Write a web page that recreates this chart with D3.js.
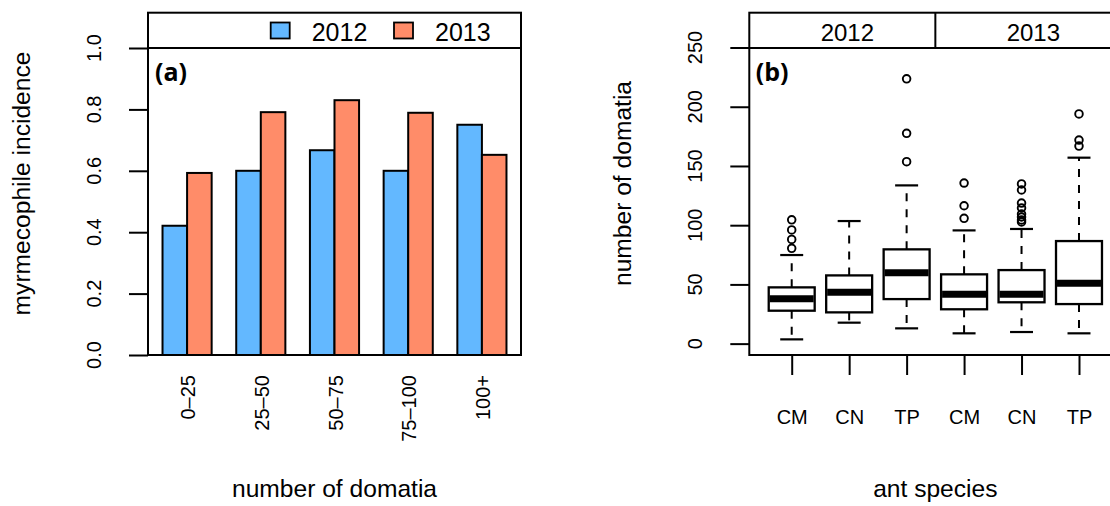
<!DOCTYPE html>
<html>
<head>
<meta charset="utf-8">
<script src="https://cdn.jsdelivr.net/npm/d3@7"></script>
<style>
  body { margin: 0; background: #fff; }
  text { font-family: "Liberation Sans", Arial, Helvetica, sans-serif; fill: #000; }
</style>
</head>
<body>
<div id="chart"></div>
<script>
// ---- data: panel (a) ----
const domatiaClasses = ["0\u201325", "25\u201350", "50\u201375", "75\u2013100", "100+"];
const years = ["2012", "2013"];
const incidence2012 = [0.421, 0.600, 0.667, 0.600, 0.750];
const incidence2013 = [0.593, 0.791, 0.830, 0.789, 0.652];
const incidenceTicks = [0, 0.2, 0.4, 0.6, 0.8, 1.0];

// ---- data: panel (b) ----
const antSpecies = ["CM", "CN", "TP", "CM", "CN", "TP"];
const boxYears = ["2012", "2012", "2012", "2013", "2013", "2013"];
const whiskerLow = [3.6, 17.7, 12.9, 8.7, 9.8, 8.7];
const quart1 = [27.8, 26.4, 37.6, 29.0, 34.9, 33.4];
const medians = [37.9, 43.3, 59.9, 41.6, 41.6, 50.9];
const quart3 = [47.5, 57.6, 79.6, 58.5, 62.1, 86.6];
const whiskerHigh = [74.8, 103.5, 133.6, 95.6, 96.8, 157.0];
const outliers = [
  [80.5, 88.0, 96.0, 104.5],
  [],
  [153.6, 177.6, 223.6],
  [105.8, 116.4, 135.6],
  [102.7, 104.4, 106.9, 109.4, 114.5, 118.7, 129.7, 134.8],
  [166.8, 171.9, 193.9]
];
const domatiaTicks = [0, 50, 100, 150, 200, 250];

const colors = ["#63B8FF", "#FF8C69"];

const W = 1110, H = 506;
const stripTop = 12.7, plotTop = 48, plotBottom = 355;
const panelA = {left: 148, right: 521};
const panelB = {left: 749.3, right: 1121.4};
const tickLen = 19;

const svg = d3.select("#chart")
  .append("svg")
    .attr("width", W)
    .attr("height", H)
    .style("display", "block");

svg.append("rect").attr("width", W).attr("height", H).attr("fill", "#fff");

// helper for rotated text (reads bottom to top)
function vtext(g, x, y, str, size, anchor) {
  return g.append("text")
    .attr("transform", `translate(${x},${y}) rotate(-90)`)
    .attr("text-anchor", anchor || "middle")
    .style("font-size", size + "px")
    .text(str);
}

// ================= panel (a) =================
const ga = svg.append("g");

const x0 = d3.scaleBand()
  .domain(domatiaClasses)
  .range([panelA.left, panelA.right])
  .paddingInner(1 / 3)
  .paddingOuter(0.197);

const x1 = d3.scaleBand()
  .domain(years)
  .range([0, x0.bandwidth()]);

const ya = d3.scaleLinear()
  .domain([0, 1])
  .range([plotBottom, plotTop]);

const barData = domatiaClasses.map((c, i) => ({
  cls: c,
  values: [incidence2012[i], incidence2013[i]]
}));

ga.append("g")
  .selectAll("g")
  .data(barData)
  .join("g")
    .attr("transform", d => `translate(${x0(d.cls)},0)`)
  .selectAll("rect")
  .data(d => d.values.map((v, j) => ({year: years[j], value: v, j: j})))
  .join("rect")
    .attr("x", d => x1(d.year))
    .attr("y", d => ya(d.value))
    .attr("width", x1.bandwidth())
    .attr("height", d => ya(0) - ya(d.value))
    .attr("fill", d => colors[d.j])
    .attr("stroke", "#000")
    .attr("stroke-width", 2);

// y axis
const yAxisA = ga.append("g")
  .attr("transform", `translate(${panelA.left},0)`)
  .call(d3.axisLeft(ya).tickValues(incidenceTicks).tickSize(tickLen).tickFormat(d3.format(".1f")));
yAxisA.select(".domain").remove();
yAxisA.selectAll("line").attr("stroke", "#000").attr("stroke-width", 2);
yAxisA.selectAll("text").remove();
incidenceTicks.forEach(t => vtext(ga, panelA.left - 47, ya(t), d3.format(".1f")(t), 20));

// rotated category labels
domatiaClasses.forEach(c => {
  vtext(ga, x0(c) + x0.bandwidth() / 2 + 8, 375, c, 20, "end");
});

// box + legend strip
ga.append("rect")
  .attr("x", panelA.left).attr("y", plotTop)
  .attr("width", panelA.right - panelA.left).attr("height", plotBottom - plotTop)
  .attr("fill", "none").attr("stroke", "#000").attr("stroke-width", 2);
ga.append("rect")
  .attr("x", panelA.left).attr("y", stripTop)
  .attr("width", panelA.right - panelA.left).attr("height", plotTop - stripTop)
  .attr("fill", "none").attr("stroke", "#000").attr("stroke-width", 2);

// legend
const legend = ga.append("g")
  .selectAll("g")
  .data(years)
  .join("g")
    .attr("transform", (d, i) => `translate(${270.7 + i * 123.3},0)`);
legend.append("rect")
  .attr("x", 0).attr("y", 22.5)
  .attr("width", 19).attr("height", 16)
  .attr("fill", (d, i) => colors[i])
  .attr("stroke", "#000").attr("stroke-width", 1.8);
legend.append("text")
  .attr("x", 41).attr("y", 40.5)
  .style("font-size", "25px")
  .text(d => d);

ga.append("text")
  .attr("x", panelA.left + 7).attr("y", 81)
  .style("font-family", "'Open Sans', sans-serif")
  .style("font-weight", "bold")
  .style("font-size", "25px")
  .text("(a)");

vtext(ga, 30, 183.5, "myrmecophile incidence", 24.6);
ga.append("text")
  .attr("x", (panelA.left + panelA.right) / 2).attr("y", 497)
  .attr("text-anchor", "middle")
  .style("font-size", "24.6px")
  .text("number of domatia");

// ================= panel (b) =================
const gb = svg.append("g");
const keys = antSpecies.map((s, i) => s + "-" + boxYears[i]);

const xb = d3.scalePoint()
  .domain(keys)
  .range([panelB.left, panelB.right])
  .padding(0.738);

const yb = d3.scaleLinear()
  .domain([-9.6, 249.6])
  .range([plotBottom, plotTop]);

const boxW = xb.step() * 0.8;

const boxes = keys.map((k, i) => ({
  key: k,
  lo: whiskerLow[i], q1: quart1[i], med: medians[i], q3: quart3[i], hi: whiskerHigh[i],
  out: outliers[i]
}));

const bg = gb.append("g")
  .selectAll("g")
  .data(boxes)
  .join("g")
    .attr("transform", d => `translate(${xb(d.key)},0)`);

// whiskers (dashed)
bg.append("line")
  .attr("x1", 0).attr("x2", 0)
  .attr("y1", d => yb(d.q3)).attr("y2", d => yb(d.hi))
  .attr("stroke", "#000").attr("stroke-width", 2).attr("stroke-dasharray", "8,8");
bg.append("line")
  .attr("x1", 0).attr("x2", 0)
  .attr("y1", d => yb(d.q1)).attr("y2", d => yb(d.lo))
  .attr("stroke", "#000").attr("stroke-width", 2).attr("stroke-dasharray", "8,8");
// caps
bg.selectAll(".cap")
  .data(d => [d.lo, d.hi])
  .join("line")
    .attr("class", "cap")
    .attr("x1", -boxW / 4).attr("x2", boxW / 4)
    .attr("y1", v => yb(v)).attr("y2", v => yb(v))
    .attr("stroke", "#000").attr("stroke-width", 2.2);
// box
bg.append("rect")
  .attr("x", -boxW / 2).attr("width", boxW)
  .attr("y", d => yb(d.q3)).attr("height", d => yb(d.q1) - yb(d.q3))
  .attr("fill", "#fff").attr("stroke", "#000").attr("stroke-width", 2.3);
// median
bg.append("line")
  .attr("x1", -boxW / 2 + 1).attr("x2", boxW / 2 - 1)
  .attr("y1", d => yb(d.med)).attr("y2", d => yb(d.med))
  .attr("stroke", "#000").attr("stroke-width", 7);
// outliers
bg.selectAll("circle")
  .data(d => d.out)
  .join("circle")
    .attr("cx", 0).attr("cy", v => yb(v)).attr("r", 3.8)
    .attr("fill", "none").attr("stroke", "#000").attr("stroke-width", 1.9);

// y axis
const yAxisB = gb.append("g")
  .attr("transform", `translate(${panelB.left},0)`)
  .call(d3.axisLeft(yb).tickValues(domatiaTicks).tickSize(tickLen));
yAxisB.select(".domain").remove();
yAxisB.selectAll("line").attr("stroke", "#000").attr("stroke-width", 2);
yAxisB.selectAll("text").remove();
domatiaTicks.forEach(t => vtext(gb, panelB.left - 47, yb(t), String(t), 20));

// x axis
const xAxisB = gb.append("g")
  .attr("transform", `translate(0,${plotBottom})`)
  .call(d3.axisBottom(xb).tickSize(tickLen + 1).tickFormat((d, i) => antSpecies[i]));
xAxisB.select(".domain").remove();
xAxisB.selectAll("line").attr("stroke", "#000").attr("stroke-width", 2);
xAxisB.selectAll("text")
  .attr("y", 0).attr("dy", null)
  .attr("transform", "translate(0,68.5)")
  .attr("fill", "#000")
  .style("font-family", "'Liberation Sans', Arial, sans-serif")
  .style("font-size", "20px");

// plot box and year strip
gb.append("rect")
  .attr("x", panelB.left).attr("y", plotTop)
  .attr("width", panelB.right - panelB.left).attr("height", plotBottom - plotTop)
  .attr("fill", "none").attr("stroke", "#000").attr("stroke-width", 2);
gb.append("rect")
  .attr("x", panelB.left).attr("y", stripTop)
  .attr("width", panelB.right - panelB.left).attr("height", plotTop - stripTop)
  .attr("fill", "none").attr("stroke", "#000").attr("stroke-width", 2);
const divider = (xb(keys[2]) + xb(keys[3])) / 2;
gb.append("line")
  .attr("x1", divider).attr("x2", divider)
  .attr("y1", stripTop).attr("y2", plotTop)
  .attr("stroke", "#000").attr("stroke-width", 2);
const stripCenters = [(panelB.left + divider) / 2, (divider + panelB.right) / 2];
years.forEach((y, i) => {
  gb.append("text")
    .attr("x", stripCenters[i] + 5).attr("y", 40.5)
    .attr("text-anchor", "middle")
    .style("font-size", "24px")
    .text(y);
});

gb.append("text")
  .attr("x", panelB.left + 6.5).attr("y", 81)
  .style("font-family", "'Open Sans', sans-serif")
  .style("font-weight", "bold")
  .style("font-size", "25px")
  .text("(b)");

vtext(gb, 631, 183.5, "number of domatia", 24.6);
gb.append("text")
  .attr("x", (panelB.left + panelB.right) / 2).attr("y", 497)
  .attr("text-anchor", "middle")
  .style("font-size", "24.6px")
  .text("ant species");
</script>
</body>
</html>
